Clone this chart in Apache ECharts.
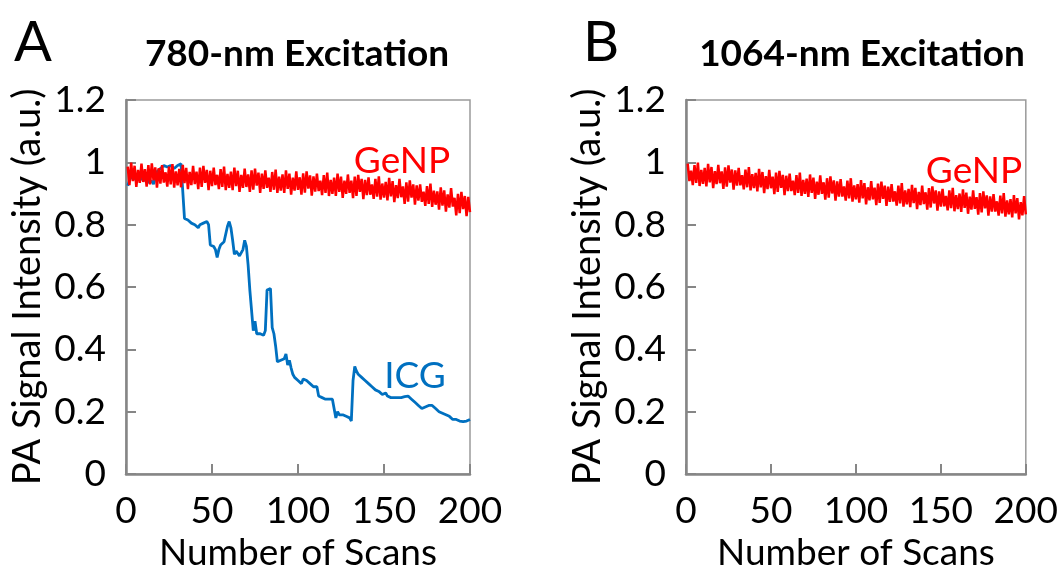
<!DOCTYPE html>
<html>
<head>
<meta charset="utf-8">
<script src="https://cdn.jsdelivr.net/npm/echarts@6/dist/echarts.min.js"></script>
<style>
html,body{margin:0;padding:0;background:#fff;}
#chart{width:1061px;height:577px;}
</style>
</head>
<body>
<div id="chart"></div>
<script>
// ---- data ----
const xTicks = [0, 50, 100, 150, 200];
const yTicks = [0, 0.2, 0.4, 0.6, 0.8, 1, 1.2];

// PA signal, 780-nm excitation, GeNP (scans 1..200)
const genp780 = [
0.986,0.927,0.999,0.940,0.989,0.921,0.976,0.934,0.996,0.937,
0.978,0.922,0.991,0.929,0.997,0.942,0.984,0.919,0.981,0.932,
0.991,0.935,0.968,0.922,0.986,0.929,0.994,0.919,0.971,0.926,
0.979,0.920,0.992,0.933,0.982,0.914,0.969,0.927,0.989,0.930,
0.970,0.914,0.983,0.921,0.989,0.934,0.976,0.911,0.973,0.924,
0.983,0.927,0.960,0.914,0.978,0.921,0.986,0.911,0.963,0.918,
0.970,0.911,0.983,0.924,0.973,0.905,0.960,0.918,0.980,0.921,
0.961,0.905,0.974,0.912,0.980,0.925,0.967,0.902,0.964,0.915,
0.974,0.918,0.951,0.905,0.969,0.912,0.977,0.902,0.954,0.909,
0.961,0.902,0.974,0.915,0.964,0.896,0.951,0.909,0.971,0.912,
0.952,0.896,0.965,0.903,0.971,0.916,0.958,0.893,0.955,0.906,
0.964,0.908,0.941,0.895,0.959,0.902,0.967,0.892,0.944,0.899,
0.951,0.892,0.964,0.905,0.954,0.886,0.941,0.899,0.961,0.902,
0.941,0.885,0.954,0.892,0.960,0.905,0.947,0.882,0.944,0.895,
0.952,0.896,0.929,0.883,0.947,0.890,0.955,0.880,0.932,0.887,
0.937,0.878,0.950,0.891,0.940,0.872,0.927,0.885,0.947,0.888,
0.923,0.867,0.936,0.874,0.942,0.887,0.929,0.864,0.926,0.877,
0.929,0.873,0.906,0.860,0.924,0.867,0.932,0.857,0.909,0.864,
0.907,0.848,0.920,0.861,0.910,0.842,0.897,0.855,0.917,0.858,
0.886,0.830,0.899,0.837,0.905,0.850,0.892,0.827,0.889,0.840
];

// PA signal, 780-nm excitation, ICG (scans 1..200)
const icg780 = [
0.925,0.940,0.955,0.955,0.945,0.960,0.950,0.955,0.945,0.955,
0.940,0.950,0.935,0.930,0.940,0.930,0.950,0.970,0.975,0.980,
0.985,0.990,0.995,0.985,0.990,0.990,0.985,0.980,0.985,0.990,
0.995,0.995,0.990,0.820,0.820,0.815,0.810,0.805,0.800,0.800,
0.795,0.790,0.800,0.800,0.805,0.810,0.810,0.800,0.735,0.740,
0.730,0.720,0.695,0.720,0.735,0.740,0.745,0.770,0.795,0.810,
0.790,0.750,0.705,0.715,0.710,0.700,0.705,0.720,0.750,0.730,
0.670,0.590,0.590,0.460,0.490,0.450,0.455,0.450,0.445,0.445,
0.460,0.590,0.585,0.595,0.470,0.450,0.410,0.360,0.365,0.365,
0.370,0.370,0.385,0.350,0.365,0.340,0.320,0.310,0.305,0.300,
0.295,0.290,0.305,0.305,0.300,0.295,0.290,0.285,0.280,0.275,
0.280,0.250,0.245,0.245,0.240,0.240,0.240,0.240,0.235,0.240,
0.240,0.180,0.200,0.190,0.195,0.190,0.190,0.185,0.185,0.180,
0.170,0.300,0.345,0.330,0.320,0.315,0.310,0.305,0.300,0.300,
0.290,0.285,0.280,0.275,0.270,0.265,0.265,0.260,0.255,0.255,
0.260,0.250,0.245,0.245,0.245,0.245,0.245,0.245,0.245,0.245,
0.245,0.248,0.250,0.250,0.245,0.240,0.235,0.230,0.225,0.220,
0.215,0.210,0.210,0.215,0.215,0.220,0.220,0.220,0.215,0.210,
0.205,0.200,0.200,0.195,0.195,0.190,0.190,0.185,0.180,0.175,
0.178,0.175,0.175,0.170,0.170,0.168,0.165,0.170,0.168,0.175
];

// PA signal, 1064-nm excitation, GeNP (scans 1..200)
const genp1064 = [
0.996,0.940,0.973,0.927,0.991,0.934,0.999,0.924,0.976,0.931,
0.982,0.923,0.995,0.936,0.985,0.917,0.972,0.930,0.992,0.933,
0.971,0.915,0.984,0.922,0.990,0.935,0.977,0.912,0.974,0.925,
0.982,0.926,0.959,0.913,0.977,0.920,0.985,0.910,0.962,0.917,
0.966,0.907,0.979,0.920,0.969,0.901,0.956,0.914,0.976,0.917,
0.954,0.898,0.967,0.905,0.973,0.918,0.960,0.895,0.957,0.908,
0.964,0.908,0.941,0.895,0.959,0.902,0.967,0.892,0.944,0.899,
0.948,0.889,0.961,0.902,0.951,0.883,0.938,0.896,0.958,0.899,
0.936,0.880,0.949,0.887,0.955,0.900,0.942,0.877,0.939,0.890,
0.946,0.890,0.923,0.877,0.941,0.884,0.949,0.874,0.926,0.881,
0.930,0.871,0.943,0.884,0.933,0.865,0.920,0.878,0.940,0.881,
0.919,0.863,0.932,0.870,0.938,0.883,0.925,0.860,0.922,0.873,
0.930,0.874,0.907,0.861,0.925,0.868,0.933,0.858,0.910,0.865,
0.915,0.856,0.928,0.869,0.918,0.850,0.905,0.863,0.925,0.866,
0.904,0.848,0.917,0.855,0.923,0.868,0.910,0.845,0.907,0.858,
0.915,0.859,0.892,0.846,0.910,0.853,0.918,0.843,0.895,0.850,
0.900,0.841,0.913,0.854,0.903,0.835,0.890,0.848,0.910,0.851,
0.888,0.832,0.901,0.839,0.907,0.852,0.894,0.829,0.891,0.842,
0.898,0.842,0.875,0.829,0.893,0.836,0.901,0.826,0.878,0.833,
0.882,0.823,0.895,0.836,0.885,0.817,0.872,0.830,0.892,0.833
];

// scan numbers (x values), one per measurement
const scans = genp780.map((_, i) => i + 1);
const pairs = (vals) => vals.map((v, i) => [scans[i], v]);

// ---- styling ----
const FONT = 'Lato';
const RED = '#FF0000';
const BLUE = '#0070C0';
const AXIS = '#868686';

function xAxisOpt(gridIndex) {
  return {
    gridIndex, type: 'value', min: xTicks[0], max: xTicks[xTicks.length - 1], interval: 50,
    name: 'Number of Scans', nameLocation: 'middle', nameGap: 61,
    nameTextStyle: { fontFamily: FONT, fontSize: 37, color: '#000' },
    axisLine: { show: true, lineStyle: { color: AXIS, width: 2.5 } },
    axisTick: { show: true, inside: true, length: 10, lineStyle: { color: AXIS, width: 2 } },
    axisLabel: { fontFamily: FONT, fontSize: 37, color: '#000', margin: 19 },
    splitLine: { show: false }
  };
}
function yAxisOpt(gridIndex) {
  return {
    gridIndex, type: 'value', min: yTicks[0], max: yTicks[yTicks.length - 1], interval: 0.2,
    name: 'PA Signal Intensity (a.u.)', nameLocation: 'middle', nameGap: 79,
    nameTextStyle: { fontFamily: FONT, fontSize: 38, color: '#000' },
    axisLine: { show: true, lineStyle: { color: AXIS, width: 2.5 } },
    axisTick: { show: true, inside: true, length: 10, lineStyle: { color: AXIS, width: 2 } },
    axisLabel: { fontFamily: FONT, fontSize: 37, color: '#000', margin: 20 },
    splitLine: { show: false }
  };
}

const chart = echarts.init(document.getElementById('chart'), null, { renderer: 'canvas' });
const txt = (x, y, text, size, color, weight) => ({
  type: 'text', x, y, z: 100,
  style: { text, fontFamily: FONT, fontSize: size, fontWeight: weight || 'normal', fill: color,
           textAlign: 'center', textVerticalAlign: 'middle' }
});

chart.setOption({
  animation: false,
  backgroundColor: '#fff',
  grid: [
    { left: 126, top: 100, width: 344, height: 379, show: true, borderColor: '#9a9a9a', borderWidth: 1.5, backgroundColor: 'transparent' },
    { left: 686, top: 100, width: 344, height: 379, show: true, borderColor: '#9a9a9a', borderWidth: 1.5, backgroundColor: 'transparent' }
  ],
  xAxis: [xAxisOpt(0), xAxisOpt(1)],
  yAxis: [yAxisOpt(0), yAxisOpt(1)],
  series: [
    { type: 'line', xAxisIndex: 0, yAxisIndex: 0, data: pairs(genp780), showSymbol: false,
      lineStyle: { color: RED, width: 2.5 }, z: 3 },
    { type: 'line', xAxisIndex: 0, yAxisIndex: 0, data: pairs(icg780), showSymbol: false,
      lineStyle: { color: BLUE, width: 2.8 }, z: 2 },
    { type: 'line', xAxisIndex: 1, yAxisIndex: 1, data: pairs(genp1064), showSymbol: false,
      lineStyle: { color: RED, width: 2.5 }, z: 3 }
  ],
  graphic: [
    txt(33, 43, 'A', 56, '#000'),
    txt(601, 43, 'B', 56, '#000'),
    txt(297, 54, '780-nm Excitation', 37, '#000', 'bold'),
    txt(862, 54, '1064-nm Excitation', 37, '#000', 'bold'),
    txt(402, 161, 'GeNP', 37, RED),
    txt(974, 171, 'GeNP', 37, RED),
    txt(415, 376, 'ICG', 37, BLUE)
  ]
});
</script>
</body>
</html>
